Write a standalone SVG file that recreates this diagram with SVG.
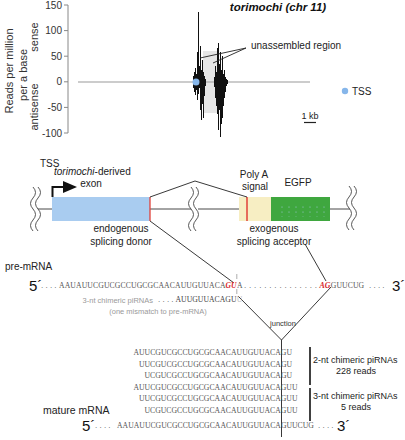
<svg xmlns="http://www.w3.org/2000/svg" width="405" height="440" viewBox="0 0 405 440">
<style>
text{font-family:"Liberation Sans",Arial,sans-serif;}
.lab{font-size:10px;fill:#222;}
.ax{font-size:10px;fill:#333;}
.big{font-size:15px;fill:#111;}
.seq{font-family:"Liberation Serif","Times New Roman",serif;font-size:7.7px;fill:#555;}
.red{font-family:"Liberation Serif","Times New Roman",serif;font-size:7.7px;fill:#d8262c;font-weight:bold;font-style:italic;}
.gray{font-size:7.5px;fill:#9a9a9a;}
.dots{font-size:8px;fill:#555;}
.ln{stroke:#222;stroke-width:0.9;fill:none;}
.wave{stroke:#444;stroke-width:0.9;fill:none;}
</style>
<defs>
<path id="wv" d="M0,0 q5,5.5 0,11 t0,11 t0,11 t0,11"/>
<g id="brk">
<path d="M0,0 q5,5.5 0,11 t0,11 t0,11 t0,11 l5,0 q-5,-5.5 0,-11 t0,-11 t0,-11 t0,-11 z" fill="#fff" stroke="none"/>
<use href="#wv" class="wave"/>
<use href="#wv" x="5" class="wave"/>
</g>
<pattern id="spk" width="7" height="5" patternUnits="userSpaceOnUse">
<circle cx="2" cy="2" r="0.6" fill="#9cc6d8"/>
</pattern>
</defs>

<g id="plot">
<text x="278" y="11" text-anchor="middle" style="font-size:11.5px;font-weight:bold;font-style:italic;fill:#111">torimochi (chr 11)</text>
<g id="yaxis">
<line x1="68" y1="5" x2="68" y2="133" stroke="#888" stroke-width="1"/>
<g stroke="#888" stroke-width="1">
<line x1="64" y1="5" x2="68" y2="5"/><line x1="64" y1="30.6" x2="68" y2="30.6"/><line x1="64" y1="56.2" x2="68" y2="56.2"/>
<line x1="64" y1="81.8" x2="68" y2="81.8"/><line x1="64" y1="107.4" x2="68" y2="107.4"/><line x1="64" y1="133" x2="68" y2="133"/>
</g>
<g class="ax" text-anchor="end">
<text x="62" y="8.5">150</text><text x="62" y="34">100</text><text x="62" y="59.7">50</text>
<text x="62" y="85.3">0</text><text x="62" y="110.9">-50</text><text x="62" y="136.5">-100</text>
</g>
<text transform="translate(12.5,71) rotate(-90)" text-anchor="middle" style="font-size:11px;fill:#333">Reads per million</text>
<text transform="translate(27,75) rotate(-90)" text-anchor="middle" style="font-size:11px;fill:#333">per a base</text>
<text transform="translate(38,37) rotate(-90)" text-anchor="middle" style="font-size:11px;fill:#333">sense</text>
<text transform="translate(38,107) rotate(-90)" text-anchor="middle" style="font-size:11px;fill:#333">antisense</text>
</g>
<rect x="203" y="51" width="14" height="62" fill="#e6e6e6"/>
<line x1="78" y1="82" x2="310" y2="82" stroke="#999" stroke-width="1"/>
<path stroke="#111" stroke-width="1" fill="none" d="M193.5,76V88 M194.5,72V92 M195.5,68V95 M196.5,74V90 M197.5,52V100 M198.5,12V94 M199.5,66V88 M200.5,46V110 M201.5,70V120 M202.5,60V104 M203.5,72V118 M204.5,76V96 M205.5,79V86 M214.5,77V87 M215.5,66V98 M216.5,72V106 M217.5,48V114 M218.5,43V130 M219.5,64V110 M220.5,52V137 M221.5,70V124 M222.5,56V118 M223.5,74V106 M224.5,70V98 M225.5,77V92 M226.5,79V86 M227.5,80V84"/>
<circle cx="196" cy="82" r="3.5" fill="#86b6ea"/>
<text x="251" y="49" class="lab">unassembled region</text>
<path class="ln" d="M246,48 L200,58 M246,48 L213,63"/>
<circle cx="345" cy="91" r="3.2" fill="#86b6ea"/>
<text x="352" y="95" class="lab">TSS</text>
<text x="310" y="119" text-anchor="middle" style="font-size:9px;fill:#222">1 kb</text>
<line x1="304" y1="122.5" x2="316" y2="122.5" stroke="#222" stroke-width="1.2"/>
</g>

<g id="gene">
<line x1="36" y1="209" x2="192" y2="209" stroke="#333" stroke-width="0.9"/>
<line x1="198" y1="209" x2="350" y2="209" stroke="#333" stroke-width="0.9"/>
<g id="exon1">
<rect x="52" y="197" width="98" height="24" fill="#a9ccf0"/>
<line x1="150" y1="197" x2="150" y2="221" stroke="#e0413a" stroke-width="1.3"/>
<text x="40" y="167" class="lab">TSS</text>
<text x="54" y="175" class="lab"><tspan font-style="italic">torimochi</tspan>-derived</text>
<text x="91" y="187" class="lab" text-anchor="middle">exon</text>
<text x="121" y="232" class="lab" text-anchor="middle">endogenous</text>
<text x="121" y="245" class="lab" text-anchor="middle">splicing donor</text>
<path d="M52.5,197 V187 H64" stroke="#111" stroke-width="2" fill="none"/>
<polygon points="63,181 77,187 63,193" fill="#111"/>
</g>
<g id="polyA">
<rect x="239" y="197" width="32" height="24" fill="#f7eec3"/>
<line x1="247" y1="197" x2="247" y2="221" stroke="#e0413a" stroke-width="1.5"/>
<text x="254" y="178" class="lab" text-anchor="middle">Poly A</text>
<text x="255" y="190" class="lab" text-anchor="middle">signal</text>
<text x="274" y="232" class="lab" text-anchor="middle">exogenous</text>
<text x="274" y="245" class="lab" text-anchor="middle">splicing acceptor</text>
</g>
<g id="egfp">
<rect x="271" y="197" width="59" height="24" fill="#3fa73f"/>
<rect x="276" y="205" width="50" height="12" fill="url(#spk)"/>
<text x="298" y="186" class="lab" text-anchor="middle">EGFP</text>
</g>
<use href="#brk" x="33" y="187"/>
<use href="#brk" x="191" y="187"/>
<use href="#brk" x="349" y="186"/>
</g>

<g id="connectors">
<path class="ln" d="M150,197 L195,181 L247,197"/>
<path class="ln" d="M150,221 L234,283"/>
<path class="ln" d="M305,244 L326,281"/>
<path class="ln" d="M238,296 L281.5,340 L331,287"/>
<line x1="281.5" y1="340" x2="281.5" y2="437" stroke="#222" stroke-width="0.9"/>
<path d="M236.8,274V279 M236.8,289V294" stroke="#999" stroke-width="0.8"/>
</g>

<g id="premrna">
<text x="5" y="270" class="lab">pre-mRNA</text>
<text x="29" y="291" class="big">5´</text>
<text x="41" y="288" class="dots">. . . .</text>
<text x="59" y="288" class="seq" textLength="166.5" lengthAdjust="spacing">AAUAUUCGUCGCCUGCGCAACAUUGUUACA</text>
<text x="225.5" y="288" class="red" textLength="11" lengthAdjust="spacingAndGlyphs">GU</text>
<text x="237" y="288" class="seq">A</text>
<text x="244" y="288" class="dots" textLength="73" lengthAdjust="spacing">. . . . . . . . . . . . . . .</text>
<text x="319.5" y="288" class="red" textLength="11" lengthAdjust="spacingAndGlyphs">AG</text>
<text x="330.8" y="288" class="seq" textLength="33.3" lengthAdjust="spacing">GUUCUG</text>
<text x="369" y="288" class="dots">. . . .</text>
<text x="392" y="291" class="big">3´</text>
</g>

<g id="chimeric3">
<text x="153" y="303" class="gray" text-anchor="end">3-nt chimeric piRNAs</text>
<text x="158" y="302" class="dots">. . . .</text>
<text x="175.5" y="302" class="seq" textLength="61" lengthAdjust="spacing" style="fill:#444">AUUGUUACAGU</text>
<text x="236.8" y="302" class="seq" style="fill:#bbb">U</text>
<text x="158" y="314" class="gray" text-anchor="middle">(one mismatch to pre-mRNA)</text>
<text x="283" y="326" text-anchor="middle" style="font-size:7.5px;fill:#333">junction</text>
</g>

<g id="chimeric2-reads">
<text x="133.4" y="355" class="seq" textLength="158.6" lengthAdjust="spacing">AUUCGUCGCCUGCGCAACAUUGUUACAGU</text>
<text x="138.9" y="366.5" class="seq" textLength="153.2" lengthAdjust="spacing">UUCGUCGCCUGCGCAACAUUGUUACAGU</text>
<text x="144.4" y="378" class="seq" textLength="147.7" lengthAdjust="spacing">UCGUCGCCUGCGCAACAUUGUUACAGU</text>
<line x1="310" y1="347" x2="310" y2="385" stroke="#111" stroke-width="1.6"/>
<text x="313" y="363" style="font-size:9px;fill:#222">2-nt chimeric piRNAs</text>
<text x="356" y="374" text-anchor="middle" style="font-size:9px;fill:#222">228 reads</text>
</g>
<g id="chimeric3-reads">
<text x="133.4" y="389.5" class="seq" textLength="164.1" lengthAdjust="spacing">AUUCGUCGCCUGCGCAACAUUGUUACAGUU</text>
<text x="138.9" y="401" class="seq" textLength="158.6" lengthAdjust="spacing">UUCGUCGCCUGCGCAACAUUGUUACAGUU</text>
<text x="144.4" y="412.5" class="seq" textLength="153.2" lengthAdjust="spacing">UCGUCGCCUGCGCAACAUUGUUACAGUU</text>
<line x1="310" y1="388" x2="310" y2="421" stroke="#111" stroke-width="1.6"/>
<text x="313" y="399" style="font-size:9px;fill:#222">3-nt chimeric piRNAs</text>
<text x="356" y="410" text-anchor="middle" style="font-size:9px;fill:#222">5 reads</text>
</g>

<g id="mature">
<text x="43" y="414" style="font-size:10.5px;fill:#222">mature mRNA</text>
<text x="82" y="431" class="big">5´</text>
<text x="95" y="428" class="dots">. . . .</text>
<text x="117" y="428" class="seq" textLength="196.9" lengthAdjust="spacing">AAUAUUCGUCGCCUGCGCAACAUUGUUACAGUUCUG</text>
<text x="318" y="428" class="dots">. . . .</text>
<text x="337" y="431" class="big">3´</text>
</g>
</svg>
